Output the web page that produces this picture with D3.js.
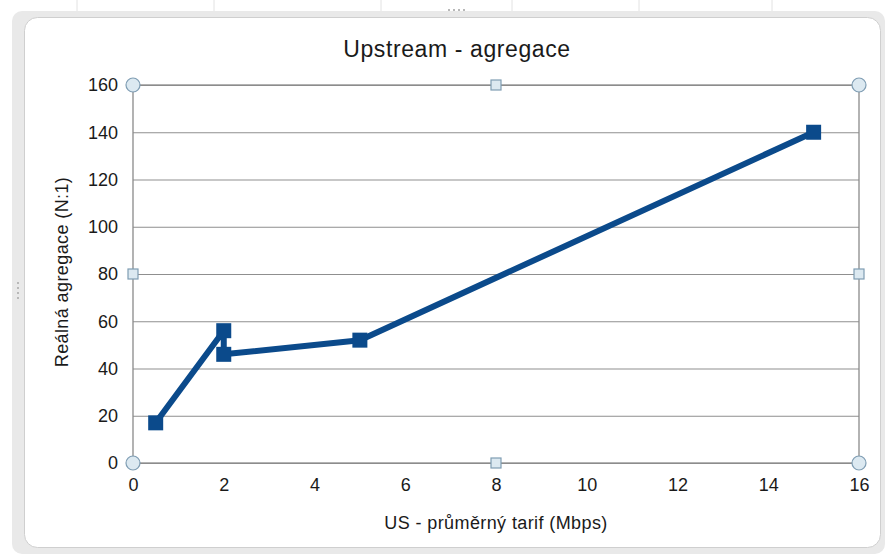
<!DOCTYPE html>
<html>
<head>
<meta charset="utf-8">
<script src="https://cdn.jsdelivr.net/npm/d3@7"></script>
<style>
  html, body { margin: 0; padding: 0; background: #fff; }
  svg { display: block; font-family: "Liberation Sans", Arial, sans-serif; }
</style>
</head>
<body>
<svg id="chart" width="887" height="555"></svg>
<script>
// Upstream aggregation vs. average tariff
const tariffMbps = [0.5, 2, 2, 5, 15];
const aggregation = [17, 56, 46, 52, 140];
const xTicks = [0, 2, 4, 6, 8, 10, 12, 14, 16];
const yTicks = [0, 20, 40, 60, 80, 100, 120, 140, 160];
const titleText = "Upstream - agregace";
const xTitle = "US - průměrný tarif (Mbps)";
const yTitle = "Reálná agregace (N:1)";

const svg = d3.select("#chart");

// sheet column lines behind the chart object
const sheet = svg.append("g");
[77, 214, 381, 512, 639, 772].forEach(x => {
  sheet.append("line").attr("x1", x).attr("x2", x).attr("y1", 0).attr("y2", 12)
    .attr("stroke", "#e2e2e2");
});

// chart area frame
svg.append("rect").attr("x", 12).attr("y", 11).attr("width", 873).attr("height", 543)
  .attr("rx", 10).attr("fill", "#e9e9e9");
svg.append("rect").attr("x", 24.5).attr("y", 17.5).attr("width", 856).attr("height", 530)
  .attr("rx", 13).attr("fill", "#fff").attr("stroke", "#cfcfcf");

// frame resize grips
const grip = svg.append("g").attr("fill", "#b8b8b8");
[0, 1, 2, 3].forEach(i => {
  grip.append("rect").attr("x", 17).attr("y", 282 + i * 5).attr("width", 2).attr("height", 2);
  grip.append("rect").attr("x", 448 + i * 5).attr("y", 9).attr("width", 2).attr("height", 2);
});

const x = d3.scaleLinear().domain([0, 16]).range([133, 859]);
const y = d3.scaleLinear().domain([0, 160]).range([463, 85]);

// horizontal gridlines
svg.append("g")
  .attr("transform", `translate(${x(0)},0)`)
  .call(d3.axisLeft(y).tickValues(yTicks).tickSize(-(x(16) - x(0))).tickFormat(""))
  .call(g => g.select(".domain").remove())
  .call(g => g.selectAll("line").attr("stroke", "#8f8f8f"));

// plot area border
svg.append("rect").attr("x", x(0)).attr("y", y(160))
  .attr("width", x(16) - x(0)).attr("height", y(0) - y(160))
  .attr("fill", "none").attr("stroke", "#8a8a8a").attr("stroke-width", 1.3);

// y tick labels
svg.append("g")
  .attr("transform", `translate(${x(0)},0)`)
  .call(d3.axisLeft(y).tickValues(yTicks).tickSize(0).tickPadding(15))
  .call(g => g.select(".domain").remove())
  .call(g => g.selectAll("text").attr("font-size", 18).attr("fill", "#1a1a1a")
    .attr("font-family", "'Liberation Sans', Arial, sans-serif"));

// x tick labels
svg.append("g")
  .attr("transform", `translate(0,${y(0)})`)
  .call(d3.axisBottom(x).tickValues(xTicks).tickSize(0).tickPadding(15))
  .call(g => g.select(".domain").remove())
  .call(g => g.selectAll("text").attr("font-size", 18).attr("fill", "#1a1a1a")
    .attr("font-family", "'Liberation Sans', Arial, sans-serif"));

// series line
const pts = tariffMbps.map((d, i) => [d, aggregation[i]]);
svg.append("path")
  .datum(pts)
  .attr("fill", "none")
  .attr("stroke", "#0b4a8b")
  .attr("stroke-width", 6)
  .attr("stroke-linejoin", "round")
  .attr("d", d3.line().x(d => x(d[0])).y(d => y(d[1])));

// square markers
const ms = 15;
svg.append("g").selectAll("rect").data(pts).join("rect")
  .attr("x", d => x(d[0]) - ms / 2)
  .attr("y", d => y(d[1]) - ms / 2)
  .attr("width", ms).attr("height", ms)
  .attr("fill", "#0b4a8b");

// selection handles on the plot area
const hx = [x(0), (x(0) + x(16)) / 2, x(16)];
const hy = [y(160), (y(160) + y(0)) / 2, y(0)];
const handles = svg.append("g").attr("fill", "#dce9f1").attr("stroke", "#7f9db3").attr("stroke-width", 1.2);
[[0, 0], [2, 0], [0, 2], [2, 2]].forEach(([i, j]) => {
  handles.append("circle").attr("cx", hx[i]).attr("cy", hy[j]).attr("r", 7);
});
[[1, 0], [1, 2], [0, 1], [2, 1]].forEach(([i, j]) => {
  handles.append("rect").attr("x", hx[i] - 5).attr("y", hy[j] - 5).attr("width", 10).attr("height", 10);
});

// titles
svg.append("text").attr("x", 457).attr("y", 57).attr("text-anchor", "middle")
  .attr("font-size", 23).attr("fill", "#1a1a1a").attr("letter-spacing", 0.6)
  .text(titleText);
svg.append("text").attr("x", 496).attr("y", 529).attr("text-anchor", "middle")
  .attr("font-size", 18).attr("fill", "#1a1a1a").attr("letter-spacing", 0.4)
  .text(xTitle);
svg.append("text").attr("transform", "translate(68,272) rotate(-90)").attr("text-anchor", "middle")
  .attr("font-size", 18).attr("fill", "#1a1a1a").attr("letter-spacing", 0.4)
  .text(yTitle);
</script>
</body>
</html>
